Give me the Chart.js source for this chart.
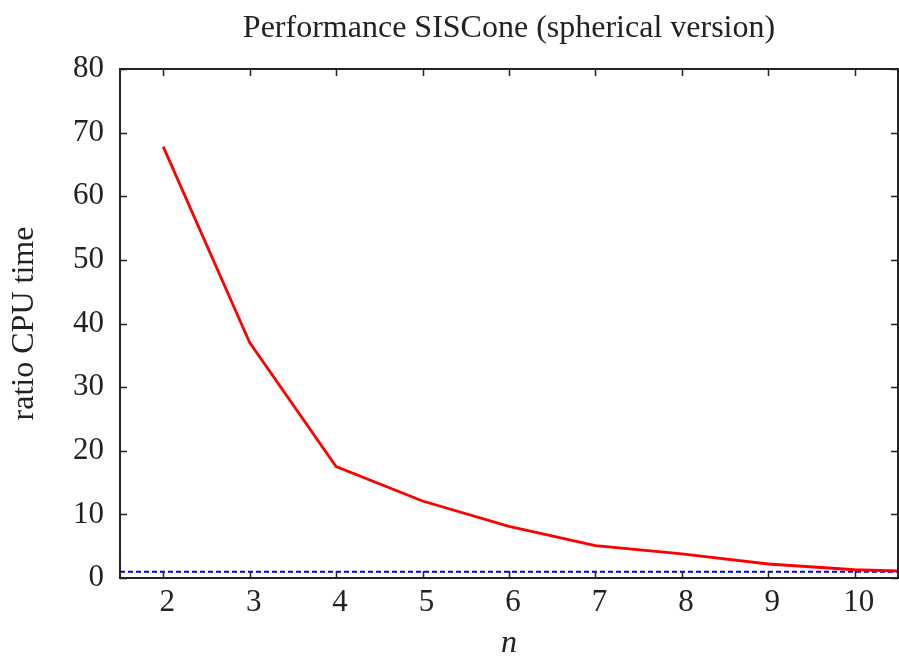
<!DOCTYPE html>
<html>
<head>
<meta charset="utf-8">
<script src="https://cdn.jsdelivr.net/npm/chart.js@4/dist/chart.umd.min.js"></script>
<style>
html,body{margin:0;padding:0;background:#fff;}
#wrap{width:899px;height:656px;position:relative;}
</style>
</head>
<body>
<div id="wrap"><canvas id="c" width="899" height="656"></canvas></div>
<script>
const nValues = [2, 3, 4, 5, 6, 7, 8, 9, 10, 11];
const ratioValues = [67.8, 37.0, 17.5, 12.1, 8.1, 5.1, 3.8, 2.2, 1.3, 0.9];
const referenceLevel = 1;
const xTicks = [2, 3, 4, 5, 6, 7, 8, 9, 10];
const yTicks = [0, 10, 20, 30, 40, 50, 60, 70, 80];

const AXIS = '#222222';
const SERIF = "'Liberation Serif','DejaVu Serif','Times New Roman',serif";

const frame = {
  id: 'frame',
  afterDatasetsDraw(chart) {
    const {ctx, chartArea: a, scales: {x, y}} = chart;
    ctx.save();
    ctx.strokeStyle = AXIS;
    ctx.lineWidth = 1.5;
    const L = 7;
    ctx.beginPath();
    xTicks.forEach(v => {
      const px = Math.round(x.getPixelForValue(v)) + 0.5;
      ctx.moveTo(px, a.bottom); ctx.lineTo(px, a.bottom - L);
      ctx.moveTo(px, a.top); ctx.lineTo(px, a.top + L);
    });
    yTicks.forEach(v => {
      const py = Math.round(y.getPixelForValue(v)) + 0.5;
      ctx.moveTo(a.left, py); ctx.lineTo(a.left + L, py);
      ctx.moveTo(a.right, py); ctx.lineTo(a.right - L, py);
    });
    ctx.stroke();
    ctx.lineWidth = 2;
    ctx.strokeRect(a.left, a.top, a.right - a.left, a.bottom - a.top);
    ctx.restore();
  }
};

new Chart(document.getElementById('c'), {
  type: 'line',
  data: {
    datasets: [
      {
        data: nValues.map((n, i) => ({x: n, y: ratioValues[i]})),
        borderColor: '#ff0000',
        borderWidth: 2.8,
        pointRadius: 0,
        tension: 0,
        fill: false
      },
      {
        data: [{x: 1.5, y: referenceLevel}, {x: 10.5, y: referenceLevel}],
        borderColor: '#0000ee',
        borderWidth: 2,
        borderDash: [5, 3],
        pointRadius: 0,
        fill: false
      }
    ]
  },
  options: {
    responsive: false,
    animation: false,
    devicePixelRatio: 1,
    layout: {padding: {left: 0, right: 1, top: 0, bottom: 0}},
    plugins: {
      legend: {display: false},
      tooltip: {enabled: false},
      title: {
        display: true,
        fullSize: false,
        text: 'Performance SISCone (spherical version)',
        color: '#222',
        font: {family: SERIF, size: 32, weight: 'normal', lineHeight: 1.2},
        padding: {top: 9, bottom: 21.6}
      }
    },
    scales: {
      x: {
        type: 'linear',
        min: 1.5,
        max: 10.5,
        afterBuildTicks: s => { s.ticks = xTicks.map(v => ({value: v})); },
        afterFit: s => { s.height = 78; },
        grid: {display: false, drawTicks: false},
        border: {display: false},
        ticks: {color: '#222', font: {family: SERIF, size: 31, lineHeight: 1.2}, padding: 6, labelOffset: 4, maxRotation: 0, autoSkip: false},
        title: {display: true, text: 'n', color: '#222', font: {family: SERIF, size: 32, style: 'italic', lineHeight: 0.8}, padding: {top: 0, bottom: 0}}
      },
      y: {
        min: 0,
        max: 80,
        afterBuildTicks: s => { s.ticks = yTicks.map(v => ({value: v})); },
        afterFit: s => { s.width = 120; },
        grid: {display: false, drawTicks: false},
        border: {display: false},
        ticks: {color: '#222', font: {family: SERIF, size: 31}, padding: 16},
        title: {display: true, text: 'ratio CPU time', color: '#222', font: {family: SERIF, size: 32, lineHeight: 1.2}, padding: {top: 5.5, bottom: 0}}
      }
    }
  },
  plugins: [frame]
});
</script>
</body>
</html>
